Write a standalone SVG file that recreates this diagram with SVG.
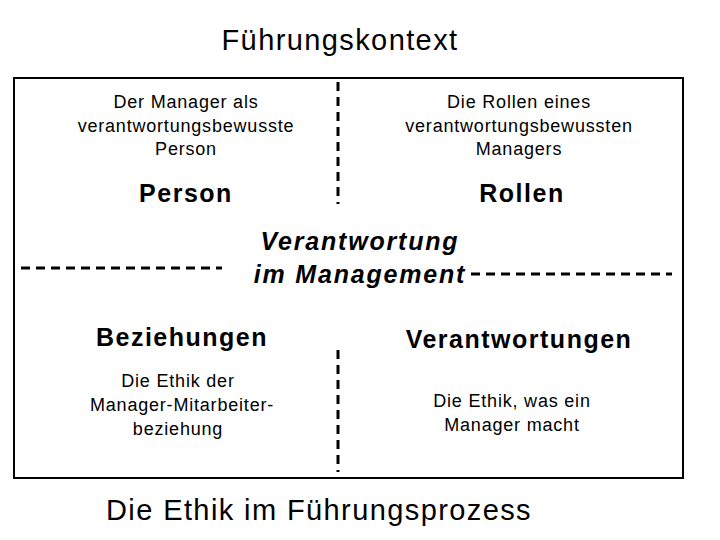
<svg xmlns="http://www.w3.org/2000/svg" width="720" height="540" viewBox="0 0 720 540">
<style>
text{font-family:"Liberation Sans",Arial,sans-serif;text-anchor:middle;fill:#000}
.s{font-size:18px;letter-spacing:0.8px}.b{font-size:25px;font-weight:bold;letter-spacing:1.5px}.t{font-size:29px;letter-spacing:1.4px}
.i{font-style:italic;letter-spacing:1.8px}
.d{stroke:#000;stroke-width:3;stroke-dasharray:9,6;fill:none}
</style>
<rect width="720" height="540" fill="#fff"/>
<text class="t" x="340" y="50">Führungskontext</text>
<rect x="14" y="78" width="669" height="400" fill="none" stroke="#000" stroke-width="2"/>
<g id="connectors">
<line class="d" x1="338" y1="82" x2="338" y2="204"/>
<line class="d" x1="338" y1="350" x2="338" y2="472"/>
<line class="d" x1="21" y1="268" x2="222" y2="268"/>
<line class="d" x1="471" y1="274" x2="672" y2="274"/>
</g>
<g id="person"><text class="s" x="186" y="108">Der Manager als</text><text class="s" x="186" y="132">verantwortungsbewusste</text><text class="s" x="186" y="155">Person</text><text class="b" x="186" y="202">Person</text></g>
<g id="rollen"><text class="s" x="519" y="108">Die Rollen eines</text><text class="s" x="519" y="132">verantwortungsbewussten</text><text class="s" x="519" y="155">Managers</text><text class="b" x="522" y="202">Rollen</text></g>
<g id="center"><text class="b i" x="360" y="250">Verantwortung</text><text class="b i" x="360" y="283">im Management</text></g>
<g id="beziehungen"><text class="b" x="182" y="346">Beziehungen</text><text class="s" x="178" y="387">Die Ethik der</text><text class="s" x="182" y="411">Manager-Mitarbeiter-</text><text class="s" x="178" y="435">beziehung</text></g>
<g id="verantwortungen"><text class="b" x="519" y="348">Verantwortungen</text><text class="s" x="512" y="407">Die Ethik, was ein</text><text class="s" x="512" y="431">Manager macht</text></g>
<text class="t" x="319" y="520">Die Ethik im Führungsprozess</text>
</svg>
